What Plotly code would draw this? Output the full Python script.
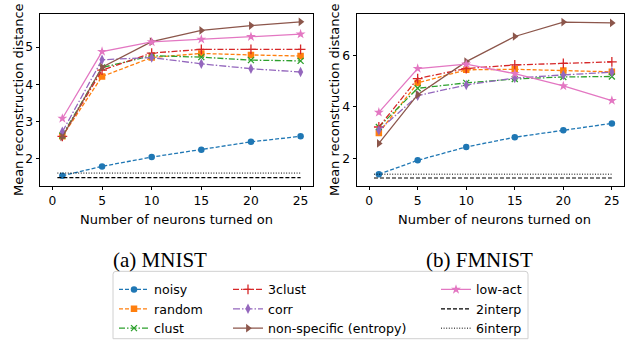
import plotly.graph_objects as go

x_vals = [1, 5, 10, 15, 20, 25]

mnist = {
    "noisy": [1.54, 1.79, 2.04, 2.24, 2.45, 2.60],
    "random": [2.60, 4.21, 4.72, 4.83, 4.79, 4.76],
    "clust": [2.62, 4.45, 4.77, 4.73, 4.65, 4.63],
    "3clust": [2.60, 4.38, 4.84, 4.94, 4.94, 4.94],
    "corr": [2.72, 4.66, 4.72, 4.55, 4.42, 4.33],
    "non-specific (entropy)": [2.58, 4.46, 5.15, 5.45, 5.58, 5.68],
    "low-act": [3.08, 4.88, 5.14, 5.21, 5.28, 5.35],
}
mnist_2interp = 1.49
mnist_6interp = 1.61

fmnist = {
    "noisy": [1.38, 1.92, 2.44, 2.82, 3.09, 3.36],
    "random": [2.99, 4.94, 5.45, 5.47, 5.42, 5.37],
    "clust": [3.22, 4.73, 4.94, 5.09, 5.17, 5.19],
    "3clust": [3.22, 5.11, 5.50, 5.64, 5.70, 5.76],
    "corr": [3.09, 4.44, 4.86, 5.13, 5.25, 5.36],
    "non-specific (entropy)": [2.58, 4.48, 5.77, 6.75, 7.31, 7.28],
    "low-act": [3.79, 5.50, 5.67, 5.30, 4.82, 4.25],
}
fmnist_2interp = 1.23
fmnist_6interp = 1.38

interp_x = [0.5, 25]

x_ticks = [0, 5, 10, 15, 20, 25]
mnist_yticks = [2, 3, 4, 5]
fmnist_yticks = [2, 4, 6]

styles = {
    "noisy": dict(color="#1f77b4", dash="4px,2px", symbol="circle", size=6.5, legend="legend"),
    "random": dict(color="#ff7f0e", dash="4px,2px", symbol="square", size=6.5, legend="legend"),
    "clust": dict(color="#2ca02c", dash="6px,2px,1.5px,2px", symbol="x-thin", size=6, legend="legend"),
    "3clust": dict(color="#d62728", dash="6px,2px,1.5px,2px", symbol="cross-thin", size=7, legend="legend2"),
    "corr": dict(color="#9467bd", dash="7px,2px,1.5px,2px", symbol="diamond-tall", size=7.5, legend="legend2"),
    "non-specific (entropy)": dict(color="#8c564b", dash="solid", symbol="triangle-right", size=7.5, legend="legend2"),
    "low-act": dict(color="#e377c2", dash="solid", symbol="star", size=7.5, legend="legend3"),
}

W, H = 626, 344
def px(x):
    return x / W
def py(y):
    return 1 - y / H

fig = go.Figure()

for panel, (data, v2, v6) in enumerate([(mnist, mnist_2interp, mnist_6interp),
                                         (fmnist, fmnist_2interp, fmnist_6interp)]):
    xa = "x" if panel == 0 else "x2"
    ya = "y" if panel == 0 else "y2"
    for name, vals in data.items():
        s = styles[name]
        thin = s["symbol"] in ("x-thin", "cross-thin")
        fig.add_trace(go.Scatter(
            x=x_vals, y=vals, name=name, mode="lines+markers",
            xaxis=xa, yaxis=ya, legend=s["legend"], showlegend=(panel == 0),
            line=dict(color=s["color"], width=1.3, dash=s["dash"]),
            marker=dict(symbol=s["symbol"], size=s["size"], color=s["color"],
                        line=dict(color=s["color"], width=1.3 if thin else 0)),
        ))
    fig.add_trace(go.Scatter(
        x=interp_x, y=[v2, v2], name="2interp", mode="lines", xaxis=xa, yaxis=ya,
        legend="legend3", showlegend=(panel == 0),
        line=dict(color="black", width=1.2, dash="4px,2px")))
    fig.add_trace(go.Scatter(
        x=interp_x, y=[v6, v6], name="6interp", mode="lines", xaxis=xa, yaxis=ya,
        legend="legend3", showlegend=(panel == 0),
        line=dict(color="black", width=1.0, dash="1px,1.6px")))

axis_common = dict(showline=True, mirror=True, linecolor="black", linewidth=1,
                   ticks="outside", ticklen=3.5, tickcolor="black", tickwidth=1,
                   showgrid=False, zeroline=False,
                   tickfont=dict(family="DejaVu Sans", size=12.3, color="black"))

legend_common = dict(font=dict(family="DejaVu Sans", size=12.6, color="black"),
                     bgcolor="rgba(0,0,0,0)", borderwidth=0, orientation="v",
                     xanchor="left", yanchor="top", tracegroupgap=0, itemwidth=30)

fig.update_layout(
    width=W, height=H, margin=dict(l=0, r=0, t=0, b=0),
    paper_bgcolor="white", plot_bgcolor="white",
    xaxis=dict(domain=[px(40), px(313)], range=[-1.25, 26.25], tickvals=x_ticks, anchor="y", **axis_common),
    yaxis=dict(domain=[py(193), py(15)], range=[1.27, 5.88], tickvals=mnist_yticks, anchor="x", **axis_common),
    xaxis2=dict(domain=[px(357), px(624)], range=[-1.25, 26.25], tickvals=x_ticks, anchor="y2", **axis_common),
    yaxis2=dict(domain=[py(193), py(15)], range=[0.93, 7.61], tickvals=fmnist_yticks, anchor="x2", **axis_common),
    legend=dict(x=px(114), y=py(285.5), **legend_common),
    legend2=dict(x=px(228), y=py(285.5), **legend_common),
    legend3=dict(x=px(436), y=py(285.5), **legend_common),
    showlegend=True,
)

# legend frame
x0, y0, x1, y1, r = 113, 282, 528, 352, 3
path = (f"M {px(x0+r)},{py(y0)} L {px(x1-r)},{py(y0)} Q {px(x1)},{py(y0)} {px(x1)},{py(y0+r)} "
        f"L {px(x1)},{py(y1)} L {px(x0)},{py(y1)} L {px(x0)},{py(y0+r)} Q {px(x0)},{py(y0)} {px(x0+r)},{py(y0)} Z")
fig.add_shape(type="path", path=path, xref="paper", yref="paper",
              line=dict(color="#d0d0d0", width=1), fillcolor="white", layer="below")

title_font = dict(family="DejaVu Sans", size=13, color="black")
ann = [
    dict(x=px(176), y=py(228), text="Number of neurons turned on", font=title_font),
    dict(x=px(494), y=py(228), text="Number of neurons turned on", font=title_font),
    dict(x=px(18), y=py(104), text="Mean reconstruction distance", textangle=-90, font=title_font),
    dict(x=px(334), y=py(104), text="Mean reconstruction distance", textangle=-90, font=title_font),
    dict(x=px(160), y=py(270), text="(a) MNIST", font=dict(family="Liberation Serif", size=21, color="black")),
    dict(x=px(479), y=py(270), text="(b) FMNIST", font=dict(family="Liberation Serif", size=21, color="black")),
]
for a in ann:
    fig.add_annotation(xref="paper", yref="paper", showarrow=False,
                       xanchor="center", yanchor="middle", **a)

fig.write_html("out.html", config={"displayModeBar": False})

# remove default page margin so the figure sits at the window's top-left corner
with open("out.html", "r", encoding="utf-8") as f:
    html = f.read()
html = html.replace("<head>", "<head><style>html,body{margin:0;padding:0;overflow:hidden;}</style>", 1)
with open("out.html", "w", encoding="utf-8") as f:
    f.write(html)
